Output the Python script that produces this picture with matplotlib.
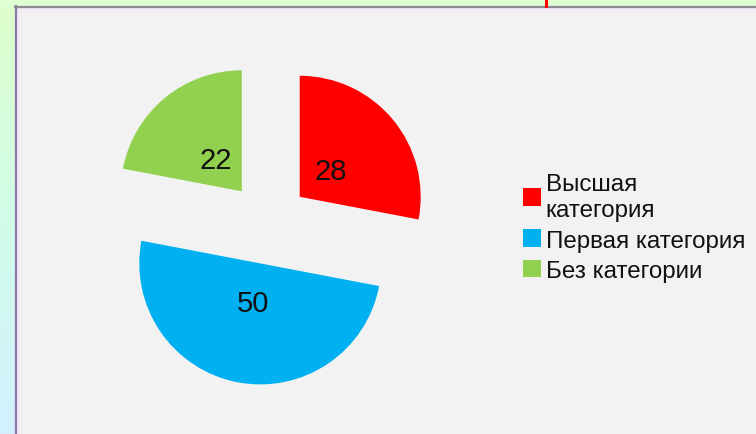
import numpy as np
import matplotlib
matplotlib.use("Agg")
import matplotlib.pyplot as plt
from matplotlib.patches import Rectangle, Patch

# Chart data
categories = ["Высшая категория", "Первая категория", "Без категории"]
legend_labels = ["Высшая\nкатегория", "Первая категория", "Без категории"]
values = [28, 50, 22]
colors = ["#ff0000", "#00b0f0", "#92d050"]

W, H = 756, 435
fig = plt.figure(figsize=(W / 100, H / 100), dpi=100)
fig.patch.set_facecolor("#f2f2f2")

# Page background: soft gradient strip around the chart panel
bg = fig.add_axes([0, 0, 1, 1])
bg.set_xlim(0, W)
bg.set_ylim(H, 0)
bg.axis("off")
t = np.linspace(0, 1, 256)[:, None]
top_c = np.array([0.87, 1.0, 0.80])
mid_c = np.array([0.82, 0.99, 0.91])
bot_c = np.array([0.83, 0.94, 1.0])
grad = np.where(t < 0.5,
                top_c + (mid_c - top_c) * (t / 0.5),
                mid_c + (bot_c - mid_c) * ((t - 0.5) / 0.5))
grad = np.repeat(grad[:, None, :], 2, axis=1)
bg.imshow(grad, extent=[0, W, H, 0], aspect="auto", zorder=0)
bg.add_patch(Rectangle((0, 0), W, 7, color="#e0ffd2", zorder=1))

# Chart panel with a thin border and a faint inner glow
bg.add_patch(Rectangle((15, 7), W - 15, H - 7, facecolor="#f2f2f2",
                       edgecolor="none", zorder=2))
for i, a in enumerate([0.55, 0.4, 0.28, 0.18, 0.1]):
    bg.plot([16.5 + i, 16.5 + i], [8, H], color="#f3e6fb", alpha=a, lw=1, zorder=3)
    bg.plot([16, W], [8.5 + i, 8.5 + i], color="#f3e6fb", alpha=a, lw=1, zorder=3)
bg.plot([15.5, 15.5], [7, H], color="#8a78a8", lw=1.6, zorder=4)
bg.plot([15, W], [7.5, 7.5], color="#8d8a94", lw=1.6, zorder=4)
bg.plot([545.5, 545.5], [0, 6.5], color="#ff0000", lw=2.2, zorder=4)

# Exploded pie
R = 121.0
cx, cy = 268.0, 224.0
span = 2.5 * R
ax = fig.add_axes([(cx - span / 2) / W, (H - cy - span / 2) / H, span / W, span / H])
total = sum(values)
wedges, texts, autotexts = ax.pie(
    values,
    colors=colors,
    startangle=90,
    counterclock=False,
    explode=[0.34] * len(values),
    radius=1.0,
    autopct=lambda p: f"{p * total / 100:.0f}",
    pctdistance=0.335,
    textprops=dict(fontsize=21, color="#111111", family="Liberation Sans"),
    wedgeprops=dict(linewidth=0),
)
ax.set_xlim(-1.25, 1.25)
ax.set_ylim(-1.25, 1.25)
ax.set_aspect("equal")
ax.axis("off")

# Legend
handles = [Patch(facecolor=c, edgecolor="none") for c in colors]
leg = fig.legend(
    handles, legend_labels,
    loc="upper left",
    bbox_to_anchor=(523 / W, 1 - 174 / H),
    frameon=False,
    prop=dict(family="Liberation Sans", size=17.4),
    handlelength=0.74, handleheight=0.74,
    handletextpad=0.2, labelspacing=0.34,
    borderaxespad=0, borderpad=0,
)
for txt in leg.get_texts():
    txt.set_color("#111111")
    txt.set_linespacing(1.25)

fig.savefig("out.png", dpi=100, facecolor=fig.get_facecolor())
